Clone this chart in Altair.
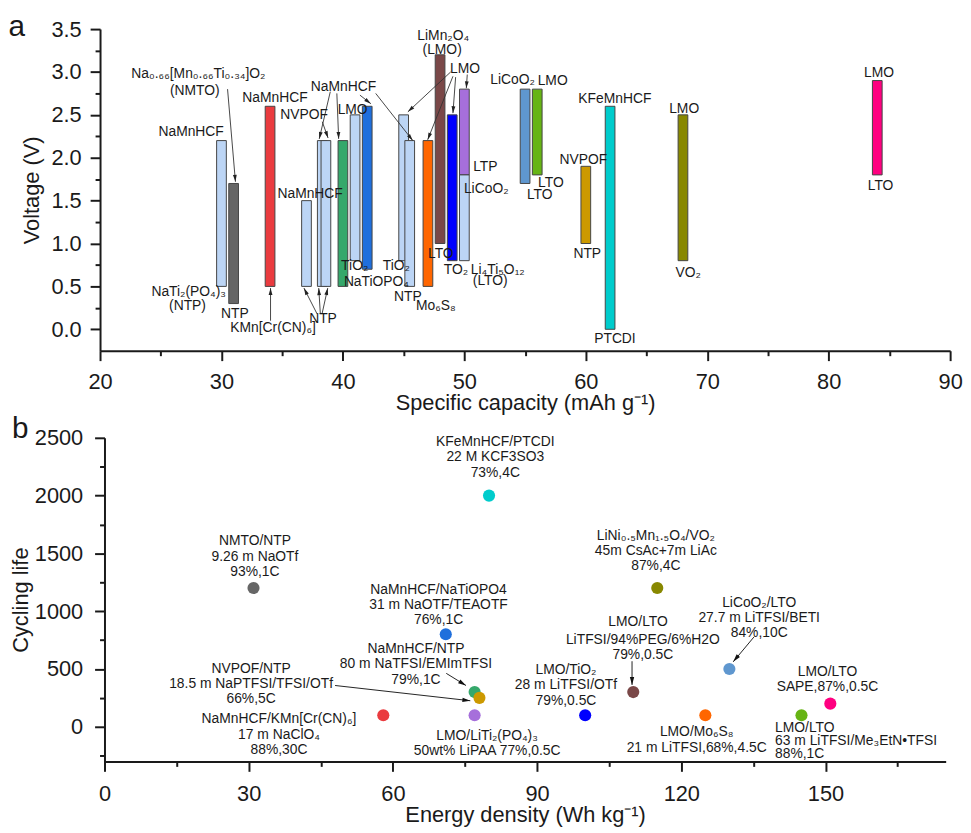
import math
import altair as alt
import pandas as pd

FONT = "Liberation Sans"
INK = "#1a1a1a"
LB = "#bcd5f5"

# ---------------- panel a : voltage windows ----------------
bar_cap = [30, 31, 34, 37, 38.3, 38.6, 40, 41, 42, 45, 45.5, 47, 48, 49, 50, 50, 55, 56, 60, 62, 68, 84]
bar_low = [0.5, 0.3, 0.5, 0.5, 0.5, 0.5, 0.5, 0.8, 0.7, 0.8, 0.5, 0.5, 1.0, 0.8, 1.8, 0.8, 1.7, 1.8, 1.0, 0.0, 0.8, 1.8]
bar_high = [2.2, 1.7, 2.6, 1.5, 2.2, 2.2, 2.2, 2.5, 2.6, 2.5, 2.2, 2.2, 3.2, 2.5, 2.8, 1.8, 2.8, 2.8, 1.9, 2.6, 2.5, 2.9]
bar_color = [LB, "#666666", "#ea3b3f", LB, LB, LB, "#35a86b", LB, "#1f6fdc", LB, LB, "#ff6600",
             "#7a4848", "#0000ff", "#a66fdb", LB, "#5f97cf", "#66b414", "#cc9900", "#00cccc", "#888800", "#ff0080"]

lab_a_text = ["Na₀.₆₆[Mn₀.₆₆Ti₀.₃₄]O₂", "(NMTO)", "NaMnHCF", "NaTi₂(PO₄)₃", "(NTP)", "NTP",
              "NaMnHCF", "KMn[Cr(CN)₆]", "NVPOF", "NaMnHCF", "LMO", "NaMnHCF", "NTP",
              "TiO₂", "NaTiOPO₄", "TiO₂", "NTP", "Mo₆S₈", "LTO", "LiMn₂O₄", "(LMO)", "LMO",
              "LTP", "LiCoO₂", "TO₂", "Li₄Ti₅O₁₂", "(LTO)", "LiCoO₂", "LMO", "LTO", "LTO",
              "NVPOF", "NTP", "KFeMnHCF", "PTCDI", "LMO", "VO₂", "LMO", "LTO"]
lab_a_x = [28.1, 27.8, 27.5, 27.3, 27.2, 31.1,
           34.4, 34.25, 36.8, 40.05, 40.8, 37.3, 38.36,
           40.97, 42.76, 44.4, 45.35, 47.65, 48.06, 48.26, 48.17, 50.06,
           51.73, 51.8, 49.3, 52.75, 52.13, 53.97, 57.27, 57.13, 56.21,
           59.8, 60.12, 62.39, 62.4, 68.1, 68.44, 84.14, 84.27]
lab_a_y = [2.98, 2.78, 2.30, 0.43, 0.27, 0.18,
           2.70, 0.02, 2.50, 2.83, 2.56, 1.58, 0.12,
           0.74, 0.55, 0.74, 0.38, 0.27, 0.88, 3.42, 3.26, 3.03,
           1.89, 1.64, 0.69, 0.69, 0.56, 2.91, 2.90, 1.71, 1.56,
           1.97, 0.88, 2.69, -0.115, 2.57, 0.65, 2.99, 1.67]

arr_a_x1 = [30.5, 34.04, 38.3, 38.96, 39.5, 41.4, 42.7, 37.87, 38.14, 38.28, 48.87, 49.06, 49.28, 50.24]
arr_a_y1 = [2.80, 0.10, 2.42, 2.77, 2.75, 2.73, 2.75, 0.18, 0.18, 0.18, 3.00, 2.95, 2.94, 2.97]
arr_a_x2 = [31.15, 34.04, 38.78, 38.05, 39.65, 42.3, 45.75, 36.79, 38.01, 38.75, 45.35, 46.98, 49.06, 50.16]
arr_a_y2 = [1.72, 0.48, 2.23, 2.22, 2.22, 2.63, 2.20, 0.48, 0.48, 0.48, 2.535, 2.21, 2.52, 2.81]

# ---------------- panel b : cycling life ----------------
pt_energy = [58, 31, 80, 71, 77, 78, 77, 100, 110, 115, 125, 130, 145, 151]
pt_cycles = [100, 1200, 2000, 800, 300, 250, 100, 100, 300, 1200, 100, 500, 100, 200]
pt_color = ["#ea3b3f", "#666666", "#00cccc", "#1f6fdc", "#35a86b", "#cc9900", "#a66fdb",
            "#0000ff", "#7a4848", "#888800", "#ff6600", "#5f97cf", "#66b414", "#ff0080"]

lab_b_text = ["NMTO/NTP\n9.26 m NaOTf\n93%,1C",
              "KFeMnHCF/PTCDI\n22 M KCF3SO3\n73%,4C",
              "NaMnHCF/NaTiOPO4\n31 m NaOTF/TEAOTF\n76%,1C",
              "NaMnHCF/NTP\n80 m NaTFSI/EMImTFSI\n79%,1C",
              "NVPOF/NTP\n18.5 m NaPTFSI/TFSI/OTf\n66%,5C",
              "NaMnHCF/KMn[Cr(CN)₆]\n17 m NaClO₄\n88%,30C",
              "LMO/LiTi₂(PO₄)₃\n50wt% LiPAA 77%,0.5C",
              "LMO/TiO₂\n28 m LiTFSI/OTf\n79%,0.5C",
              "LMO/LTO",
              "LiTFSI/94%PEG/6%H2O\n79%,0.5C",
              "LiNi₀.₅Mn₁.₅O₄/VO₂\n45m CsAc+7m LiAc\n87%,4C",
              "LiCoO₂/LTO\n27.7 m LiTFSI/BETI\n84%,10C",
              "LMO/LTO\nSAPE,87%,0.5C",
              "LMO/LTO\n63 m LiTFSI/Me₃EtN•TFSI\n88%,1C",
              "LMO/Mo₆S₈\n21 m LiTFSI,68%,4.5C"]
lab_b_x = [31.3, 81.3, 69.5, 64.8, 30.5, 36.3, 79.6, 96.0, 111.0, 112.0, 114.7, 136.2, 150.4, 139.5, 123.2]
lab_b_y = [1605, 2464, 1186, 672, 501, 64, -78, 492, 907, 750, 1654, 1072, 475, -7, -50]
lab_b_align = ["center"] * 13 + ["left", "center"]

arr_b_x1 = [71.1, 47.97, 109.75, 135.1]
arr_b_y1 = [462, 357, 567, 776]
arr_b_x2 = [75.2, 76.1, 109.75, 130.8]
arr_b_y2 = [357, 225, 362, 562]

# ---------------- layout / style constants ----------------
WA, HA = 859, 325
WB, HB = 850, 327
XA_DOM, YA_DOM = [20, 90], [-0.25, 3.5]
XB_DOM, YB_DOM = [0, 175], [-300, 2500]
BAR_HALF = 0.4
HEAD = "M0,0L-0.55,2L0.55,2Z"


def head_angle(x1, y1, x2, y2, kx, ky):
    dx = (x2 - x1) * kx
    dy = -(y2 - y1) * ky
    return math.degrees(math.atan2(dx, -dy)) % 360


def arrows_df(x1, y1, x2, y2, kx, ky):
    return pd.DataFrame({
        "x1": x1, "y1": y1, "x2": x2, "y2": y2,
        "ang": [head_angle(a, b, c, d, kx, ky) for a, b, c, d in zip(x1, y1, x2, y2)],
    })


def tick_size(test):
    return {"condition": {"test": test, "value": 10}, "value": 5}


# ---------------- panel a ----------------
sx_a = alt.Scale(domain=XA_DOM, nice=False, zero=False)
sy_a = alt.Scale(domain=YA_DOM, nice=False, zero=False)
ax_xa = alt.Axis(title="Specific capacity (mAh g⁻¹)", values=list(range(20, 91, 5)),
                 labelExpr="datum.value % 10 === 0 ? datum.label : ''",
                 tickSize=tick_size("datum.value % 10 === 0"), labelPadding=11, titlePadding=0)
ax_ya = alt.Axis(title="Voltage (V)", values=[i * 0.25 for i in range(0, 15)], format=".1f",
                 labelExpr="abs(datum.value * 2 - round(datum.value * 2)) < 0.001 ? datum.label : ''",
                 tickSize=tick_size("abs(datum.value * 2 - round(datum.value * 2)) < 0.001"),
                 labelPadding=9, titlePadding=8)


def XA(f):
    return alt.X(f, type="quantitative", scale=sx_a, axis=ax_xa)


def YA(f):
    return alt.Y(f, type="quantitative", scale=sy_a, axis=ax_ya)


bars_df = pd.DataFrame({"c": bar_cap, "lo": bar_low, "hi": bar_high, "col": bar_color})
bars_df["x0"] = bars_df["c"] - BAR_HALF
bars_df["x1"] = bars_df["c"] + BAR_HALF

bars = alt.Chart(bars_df).mark_rect(stroke="#454545", strokeWidth=1).encode(
    x=XA("x0"), x2="x1", y=YA("lo"), y2="hi", color=alt.Color("col:N", scale=None))

arr_a = arrows_df(arr_a_x1, arr_a_y1, arr_a_x2, arr_a_y2, WA / (XA_DOM[1] - XA_DOM[0]),
                  HA / (YA_DOM[1] - YA_DOM[0]))
rules_a = alt.Chart(arr_a).mark_rule(color="#333333", strokeWidth=0.9).encode(
    x=XA("x1"), y=YA("y1"), x2="x2", y2="y2")
heads_a = alt.Chart(arr_a).mark_point(shape=HEAD, filled=True, size=49, color="#222222", opacity=1).encode(
    x=XA("x2"), y=YA("y2"), angle=alt.Angle("ang:Q", scale=None))

labs_a = alt.Chart(pd.DataFrame({"t": lab_a_text, "x": lab_a_x, "y": lab_a_y})).mark_text(
    font=FONT, fontSize=14, color=INK, align="center", baseline="middle").encode(
    x=XA("x"), y=YA("y"), text="t:N")

letter_a = alt.Chart(pd.DataFrame({"t": ["a"]})).mark_text(
    font=FONT, fontSize=30, color=INK, align="left", baseline="alphabetic").encode(
    text="t:N", x=alt.value(-92.5), y=alt.value(7))

panel_a = alt.layer(bars, rules_a, heads_a, labs_a, letter_a).properties(width=WA, height=HA)

# ---------------- panel b ----------------
sx_b = alt.Scale(domain=XB_DOM, nice=False, zero=False)
sy_b = alt.Scale(domain=YB_DOM, nice=False, zero=False)
ax_xb = alt.Axis(title="Energy density (Wh kg⁻¹)", values=list(range(0, 166, 15)),
                 labelExpr="datum.value % 30 === 0 ? datum.label : ''",
                 tickSize=tick_size("datum.value % 30 === 0"), labelPadding=12, titlePadding=1)
ax_yb = alt.Axis(title="Cycling life", values=list(range(-250, 2501, 250)), format="d",
                 labelExpr="datum.value % 500 === 0 && datum.value >= 0 ? datum.label : ''",
                 tickSize=tick_size("datum.value % 500 === 0"), labelPadding=12, titlePadding=2)


def XB(f):
    return alt.X(f, type="quantitative", scale=sx_b, axis=ax_xb)


def YB(f):
    return alt.Y(f, type="quantitative", scale=sy_b, axis=ax_yb)


pts = alt.Chart(pd.DataFrame({"e": pt_energy, "n": pt_cycles, "col": pt_color})).mark_circle(
    size=150, opacity=1).encode(x=XB("e"), y=YB("n"), color=alt.Color("col:N", scale=None))

arr_b = arrows_df(arr_b_x1, arr_b_y1, arr_b_x2, arr_b_y2, WB / (XB_DOM[1] - XB_DOM[0]),
                  HB / (YB_DOM[1] - YB_DOM[0]))
rules_b = alt.Chart(arr_b).mark_rule(color="#222222", strokeWidth=1).encode(
    x=XB("x1"), y=YB("y1"), x2="x2", y2="y2")
heads_b = alt.Chart(arr_b).mark_point(shape=HEAD, filled=True, size=64, color="#111111", opacity=1).encode(
    x=XB("x2"), y=YB("y2"), angle=alt.Angle("ang:Q", scale=None))

lab_b_df = pd.DataFrame({"t": lab_b_text, "x": lab_b_x, "y": lab_b_y, "al": lab_b_align})
labs_b_c = alt.Chart(lab_b_df[lab_b_df["al"] == "center"]).mark_text(
    font=FONT, fontSize=14, color=INK, align="center", baseline="middle", lineBreak="\n",
    lineHeight=15.5).encode(x=XB("x"), y=YB("y"), text="t:N")
labs_b_l = alt.Chart(lab_b_df[lab_b_df["al"] == "left"]).mark_text(
    font=FONT, fontSize=14, color=INK, align="left", baseline="middle", lineBreak="\n",
    lineHeight=13.5).encode(x=XB("x"), y=YB("y"), text="t:N")

letter_b = alt.Chart(pd.DataFrame({"t": ["b"]})).mark_text(
    font=FONT, fontSize=30, color=INK, align="left", baseline="alphabetic").encode(
    text="t:N", x=alt.value(-93.5), y=alt.value(0))

panel_b = alt.layer(rules_b, heads_b, pts, labs_b_c, labs_b_l, letter_b).properties(width=WB, height=HB)

chart = alt.vconcat(panel_a, panel_b, spacing=88, center=True, bounds="flush").properties(
    padding={"left": 0, "top": 0, "right": 0, "bottom": 2}
).configure_view(stroke=None).configure_axis(
    domainColor=INK, domainWidth=2, tickColor=INK, tickWidth=2,
    labelFont=FONT, labelFontSize=22, labelColor=INK,
    titleFont=FONT, titleFontSize=22, titleFontWeight="normal", titleColor=INK,
    grid=False, labelFlush=False, labelOverlap=False)

chart.save("out.html", embed_options={"renderer": "svg", "actions": False})
